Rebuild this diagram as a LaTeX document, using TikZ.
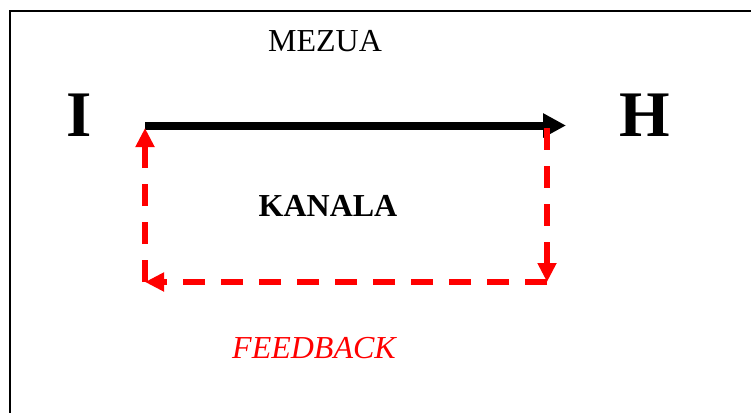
\documentclass[tikz,border=0pt]{standalone}
\usepackage{fontspec}
\setmainfont{Liberation Serif}
\usepackage{tikz}
\usetikzlibrary{arrows.meta}

\begin{document}
\begin{tikzpicture}[
    x=1pt, y=-1pt,
    every node/.style={inner sep=0pt},
    lbl/.style={font=\fontsize{32}{38}\selectfont},
    big/.style={font=\fontsize{65}{78}\selectfont\bfseries},
    arr/.style={-{Triangle[length=23pt,width=23pt]}, line width=8pt},
    fb/.style={-{Triangle[length=19pt,width=18pt]}, line width=6pt, red,
      dash pattern=on 22pt off 16pt}
  ]
    \useasboundingbox (0,0) rectangle (751,412);
    % frame (open to the right and bottom)
    \draw[line width=2pt] (10,420) -- (10,11) -- (760,11);
    % end letters
    \node[big] (I) at (79.5,115) {I};
    \node[big] (H) at (645,115) {H};
    % labels
    \node[lbl] (mezua) at (325,41) {MEZUA};
    \node[lbl, font=\fontsize{32}{38}\selectfont\bfseries] (kanala) at (328,206) {KANALA};
    \node[lbl, text=red, font=\fontsize{32}{38}\selectfont\itshape] (feedback) at (314,348) {FEEDBACK};
    % corners of the loop
    \coordinate (tl) at (145,125.5);
    \coordinate (tr) at (566,125.5);
    \coordinate (rt) at (547,128);
    \coordinate (rb) at (547,282);
    \coordinate (lb) at (145,282);
    \coordinate (lt) at (145,128);
    % message
    \draw[arr] (tl) -- (tr);
    % feedback loop
    \draw[fb] (rt) -- (rb);
    \draw[fb] (rb) -- (lb);
    \draw[fb] (lb) -- (lt);
\end{tikzpicture}
\end{document}
